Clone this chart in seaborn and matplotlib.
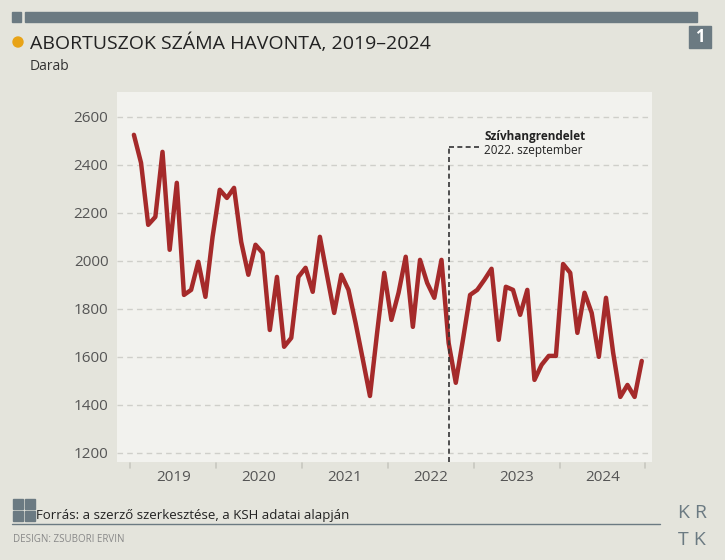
import matplotlib
matplotlib.use("Agg")
import matplotlib.pyplot as plt
import seaborn as sns
import pandas as pd
import numpy as np

years = ["2019", "2020", "2021", "2022", "2023", "2024"]
values = [2525, 2408, 2150, 2183, 2454, 2046, 2325, 1858, 1879, 1996, 1850, 2100,
          2296, 2262, 2304, 2079, 1942, 2067, 2033, 1712, 1933, 1642, 1679, 1933,
          1971, 1871, 2100, 1940, 1783, 1942, 1879, 1740, 1590, 1437, 1700, 1950,
          1754, 1867, 2017, 1725, 2004, 1908, 1846, 2004, 1658, 1492, 1671, 1858,
          1879, 1921, 1967, 1671, 1892, 1879, 1775, 1879, 1504, 1567, 1604, 1604,
          1987, 1950, 1700, 1867, 1783, 1600, 1846, 1617, 1433, 1483, 1433, 1583]
yticks = [1200, 1400, 1600, 1800, 2000, 2200, 2400, 2600]
df = pd.DataFrame({"m": np.arange(len(values)), "v": values})

sns.set_theme(style="white")
plt.rcParams['font.family'] = ['Open Sans', 'DejaVu Sans']
bg = "#e4e4dc"
fig = plt.figure(figsize=(7.25, 5.6), dpi=100, facecolor=bg)
ax = fig.add_axes([0.161, 0.175, 0.738, 0.661])
ax.set_facecolor("#f2f2ee")
sns.lineplot(data=df, x="m", y="v", ax=ax, color="#a52a2a", lw=3.2, zorder=3)
ax.set_xlim(-2.4, 72.4)
ax.set_ylim(1162, 2704)
ax.set_yticks(yticks)
ax.set_yticklabels([str(t) for t in yticks], fontsize=11, color="#555555")
for t in yticks:
    ax.axhline(t, color="#cfcfca", lw=1, ls=(0, (4, 3)), zorder=1)
ax.set_xticks([5.5 + 12 * i for i in range(6)])
ax.set_xticklabels(years, fontsize=11, color="#555555")
ax.tick_params(axis="both", length=0, pad=6)
ax.set_xlabel(""); ax.set_ylabel("")
for s in ax.spines.values():
    s.set_visible(False)
for k in range(7):
    xb = -0.5 + 12 * k
    ax.plot([xb, xb], [1162 - 12 / 0.24 * 0.5, 1162 - 12 / 0.24 * 0.05], color="#c8c8c0",
            lw=1.2, clip_on=False, transform=ax.transData)
# annotation
ax.plot([44, 44], [1162, 2475], color="#333333", lw=1.2, ls=(0, (3, 2)), zorder=4)
ax.plot([44, 48.5], [2475, 2475], color="#333333", lw=1.2, ls=(0, (3, 2)), zorder=4)
ax.text(49, 2490, "Szívhangrendelet", fontsize=8.5, fontweight="bold", color="#222222", va="bottom")
ax.text(49, 2488, "2022. szeptember", fontsize=8.5, color="#222222", va="top")

# header / footer
fig.add_artist(plt.Rectangle((25 / 725, 1 - 22 / 560), 672 / 725, 10 / 560, color="#6b7a82", transform=fig.transFigure))
fig.add_artist(plt.Rectangle((12 / 725, 1 - 22 / 560), 9 / 725, 10 / 560, color="#6b7a82", transform=fig.transFigure))
fig.add_artist(plt.Rectangle((689 / 725, 1 - 48 / 560), 22 / 725, 22 / 560, color="#6b7a82", transform=fig.transFigure))
fig.text(700 / 725, 1 - 37 / 560, "1", fontsize=12, fontweight="bold", color="white", ha="center", va="center")
fig.add_artist(matplotlib.patches.Ellipse((18 / 725, 1 - 42 / 560), 10 / 725, 10 / 560, color="#e8a317", transform=fig.transFigure))
fig.text(30 / 725, 1 - 43 / 560, "ABORTUSZOK SZÁMA HAVONTA, 2019–2024", fontsize=14, color="#222222", va="center")
fig.text(30 / 725, 1 - 67 / 560, "Darab", fontsize=10, color="#333333", va="center")
fig.add_artist(plt.Line2D([12 / 725, 660 / 725], [1 - 524 / 560] * 2, color="#6b7a82", lw=1, transform=fig.transFigure))
for dx, dy in [(0, 0), (12, 0), (0, 12), (12, 12)]:
    fig.add_artist(plt.Rectangle(((13 + dx) / 725, 1 - (509 + dy) / 560), 10 / 725, 10 / 560,
                                 color="#6b7a82", transform=fig.transFigure))
fig.text(36 / 725, 1 - 516 / 560, "Forrás: a szerző szerkesztése, a KSH adatai alapján", fontsize=9.5, color="#222222", va="center")
fig.text(13 / 725, 1 - 540 / 560, "DESIGN: ZSUBORI ERVIN", fontsize=7, color="#888888", va="center")
fig.text(692 / 725, 1 - 513 / 560, "K R", fontsize=14, color="#6b7a82", ha="center", va="center")
fig.text(692 / 725, 1 - 540 / 560, "T K", fontsize=14, color="#6b7a82", ha="center", va="center")
fig.savefig("out.png", dpi=100, facecolor=bg)
